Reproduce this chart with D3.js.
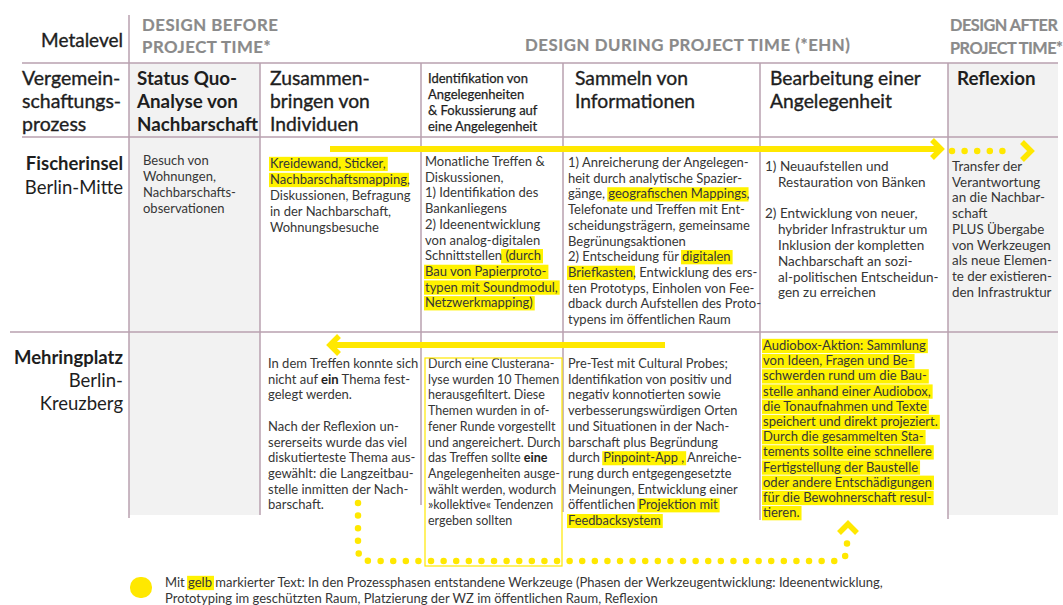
<!DOCTYPE html>
<html><head><meta charset="utf-8">
<script src="https://cdn.jsdelivr.net/npm/d3@7"></script>
<style>
body{margin:0;background:#fff}
svg{display:block}
text{font-family:Lato,"Noto Sans",sans-serif}
</style>
</head><body>
<svg id="c" width="1063" height="605"></svg>
<script>
// ---------- DATA ----------
const metaLabel = "Metalevel";
const metaLevels = [
  ["DESIGN BEFORE","PROJECT TIME*"],
  ["DESIGN DURING PROJECT TIME (*EHN)"],
  ["DESIGN AFTER","PROJECT TIME*"]
];
const processLabel = ["Vergemein-","schaftungs-","prozess"];
const phases = ["status","zusammen","ident","sammeln","bearbeitung","reflexion"];
const phaseLabels = [
  ["Status Quo-","Analyse von","Nachbarschaft"],
  ["Zusammen-","bringen von","Individuen"],
  ["Identifikation von","Angelegenheiten","& Fokussierung auf","eine Angelegenheit"],
  ["Sammeln von","Informationen"],
  ["Bearbeitung einer","Angelegenheit"],
  ["Reflexion"]
];
const sites = [
  ["Fischerinsel","Berlin-Mitte"],
  ["Mehringplatz","Berlin-","Kreuzberg"]
];
// [..] = gelb markiert, *..* = fett, \t = eingerückte Fortsetzung
const fischerinselCells = [
  ["Besuch von","Wohnungen,","Nachbarschafts-","observationen"],
  ["[Kreidewand, Sticker,]","[Nachbarschaftsmapping],","Diskussionen, Befragung","in der Nachbarschaft,","Wohnungsbesuche"],
  ["Monatliche Treffen &","Diskussionen,","1) Identifikation des","Bankanliegens","2) Ideenentwicklung","von analog-digitalen","Schnittstellen[ (durch]","[Bau von Papierproto-]","[typen mit Soundmodul,]","[Netzwerkmapping)]"],
  ["1) Anreicherung der Angelegen-","heit durch analytische Spazier-","gänge, [geografischen Mappings],","Telefonate und Treffen mit Ent-","scheidungsträgern, gemeinsame","Begrünungsaktionen","2) Entscheidung für [digitalen]","[Briefkasten], Entwicklung des ers-","ten Prototyps, Einholen von Fee-","dback durch Aufstellen des Proto-","typens im öffentlichen Raum"],
  ["1) Neuaufstellen und","\tRestauration von Bänken","","2) Entwicklung von neuer,","\thybrider Infrastruktur um","\tInklusion der kompletten","\tNachbarschaft an sozi-","\tal-politischen Entscheidun-","\tgen zu erreichen"],
  ["Transfer der","Verantwortung","an die Nachbar-","schaft","PLUS Übergabe","von Werkzeugen","als neue Elemen-","te der existieren-","den Infrastruktur"]
];
const mehringplatzCells = [
  [],
  ["In dem Treffen konnte sich","nicht auf *ein* Thema fest-","gelegt werden.","","Nach der Reflexion un-","sererseits wurde das viel","diskutierteste Thema aus-","gewählt: die Langzeitbau-","stelle inmitten der Nach-","barschaft."],
  ["Durch eine Clusterana-","lyse wurden 10 Themen","herausgefiltert. Diese","Themen wurden in of-","fener Runde vorgestellt","und angereichert. Durch","das Treffen sollte *eine*","Angelegenheiten ausge-","wählt werden, wodurch","»kollektive« Tendenzen","ergeben sollten"],
  ["Pre-Test mit Cultural Probes;","Identifikation von positiv und","negativ konnotierten sowie","verbesserungswürdigen Orten","und Situationen in der Nach-","barschaft plus Begründung","durch [Pinpoint-App ,] Anreiche-","rung durch entgegengesetzte","Meinungen, Entwicklung einer","öffentlichen [Projektion mit]","[Feedbacksystem]"],
  ["[Audiobox-Aktion: Sammlung]","[von Ideen, Fragen und Be-]","[schwerden rund um die Bau-]","[stelle anhand einer Audiobox,]","[die Tonaufnahmen und Texte]","[speichert und direkt projeziert.]","[Durch die gesammelten Sta-]","[tements sollte eine schnellere]","[Fertigstellung der Baustelle]","[oder andere Entschädigungen]","[für die Bewohnerschaft resul-]","[tieren.]"],
  []
];
const legendLines = [
  "Mit [gelb] markierter Text: In den Prozessphasen entstandene Werkzeuge (Phasen der Werkzeugentwicklung: Ideenentwicklung,",
  "Prototyping im geschützten Raum, Platzierung der WZ im öffentlichen Raum, Reflexion"
];

// ---------- LAYOUT ----------
const colEdges = [129, 260, 421, 563, 760, 948, 1058];
const xCol = d3.scaleOrdinal().domain(phases).range(colEdges.slice(0, 6));
const xColEnd = d3.scaleOrdinal().domain(phases).range(colEdges.slice(1));
const yRows = {metaTop: 15, header: 63, row1: 137, row2: 332, bottom: 515};
const LINE = "#b9a1af", YEL = "#ffe800", HL = "#fff200", GRAY = "#f2f2f2";
const TXT = "#363636", DARK = "#1e1e1e";

const svg = d3.select("#c");
const gFill = svg.append("g"), gGrid = svg.append("g"), gHL = svg.append("g"),
      gText = svg.append("g"), gArrow = svg.append("g");

// gray columns
["status", "reflexion"].forEach(p => {
  gFill.append("rect").attr("x", xCol(p)).attr("y", yRows.header)
    .attr("width", xColEnd(p) - xCol(p)).attr("height", yRows.bottom - yRows.header)
    .attr("fill", GRAY);
});

// grid lines
const hLines = [[22, yRows.header], [22, yRows.row1], [10, yRows.row2]];
hLines.forEach(([x0, y]) => gGrid.append("line").attr("x1", x0).attr("x2", colEdges[6])
  .attr("y1", y).attr("y2", y).attr("stroke", LINE).attr("stroke-width", 1.5));
const vEnds = [518, 515, 505, 512, 520, 519];
colEdges.slice(0, 6).forEach((x, i) => gGrid.append("line").attr("x1", x).attr("x2", x)
  .attr("y1", i === 0 ? yRows.metaTop : yRows.header).attr("y2", vEnds[i])
  .attr("stroke", LINE).attr("stroke-width", 1.5));

// rich text helper
function richLine(g, str, x, y, opt) {
  const t = g.append("text").attr("x", x).attr("y", y)
    .attr("font-size", opt.size).attr("fill", opt.color || TXT)
    .attr("font-weight", opt.weight || 400);
  if (opt.anchor) t.attr("text-anchor", opt.anchor);
  if (opt.ls) t.attr("letter-spacing", opt.ls);
  if (opt.medium) t.attr("stroke", opt.color || TXT).attr("stroke-width", opt.medium);
  const parts = str.split(/(\[[^\]]*\]|\*[^*]*\*)/).filter(s => s.length);
  const spans = parts.map(p => {
    let kind = "n", s = p;
    if (p[0] === "[") { kind = "h"; s = p.slice(1, -1); }
    else if (p[0] === "*") { kind = "b"; s = p.slice(1, -1); }
    const ts = t.append("tspan").text(s);
    if (kind === "b") ts.attr("font-weight", 700).attr("fill", DARK);
    return {ts, kind};
  });
  spans.filter(s => s.kind === "h").forEach(s => {
    const node = s.ts.node();
    const x0 = node.getStartPositionOfChar(0).x;
    const w = node.getComputedTextLength();
    gHL.append("rect").attr("x", x0 - 1).attr("y", y - opt.size * 0.86)
      .attr("width", w + 3).attr("height", opt.size * 1.1).attr("fill", HL);
  });
  return t;
}
function block(lines, x, y0, lh, opt) {
  lines.forEach((l, i) => {
    if (!l) return;
    let xx = x, s = l;
    if (s[0] === "\t") { xx = x + (opt.indent || 13); s = s.slice(1); }
    const o = Object.assign({}, opt);
    if (opt.boldFirst && i === 0) o.weight = 700;
    richLine(gText, s, xx, y0 + i * lh, o);
  });
}

// meta level row
richLine(gText, metaLabel, 123, 47, {size: 19, anchor: "end", color: DARK, medium: 0.35});
const grayHead = {size: 16.8, weight: 700, color: "#8a8a8a", ls: 0.5, medium: 0.2};
block(metaLevels[0], 142, 31, 22, grayHead);
block(metaLevels[1], 525, 51, 22, Object.assign({}, grayHead, {ls: 0.55}));
block(metaLevels[2], 950, 31, 23, {size: 16.3, weight: 700, color: "#8a8a8a", ls: -0.5, medium: 0.2});

// header row
block(processLabel, 22, 85, 23, {size: 19.5, color: DARK, medium: 0.35});
const headPad = [8, 10, 7, 12, 10, 9];
phases.forEach((p, i) => {
  const small = p === "ident";
  const bold = (p === "status" || p === "reflexion");
  block(phaseLabels[i], xCol(p) + headPad[i], small ? 83 : 85, small ? 16 : 23,
    {size: small ? 13 : (bold ? 18.8 : 19.3), color: DARK, weight: bold ? 700 : 400,
     medium: bold ? 0 : (small ? 0.25 : 0.35)});
});

// site labels
block(sites[0], 123, 170, 24, {size: 18.5, anchor: "end", color: DARK, boldFirst: true});
block(sites[1], 123, 364, 23, {size: 18.5, anchor: "end", color: DARK, boldFirst: true});

// cells
const cellPadF = [14, 10, 4, 5, 5, 4];
const firstF = [165, 168, 166, 167, 171, 171];
const lhF = [16, 16, 15.7, 15.7, 15.8, 15.7];
const sizeF = [13, 13, 13, 13, 13.5, 13.4];
phases.forEach((p, i) => block(fischerinselCells[i], xCol(p) + cellPadF[i], firstF[i], lhF[i], {size: sizeF[i]}));
const cellPadM = [14, 8, 7, 5, 3, 4];
const firstM = [368, 368, 368, 368, 350, 368];
const lhM = [15.7, 15.7, 15.7, 15.7, 15.2, 15.7];
const sizeM = [13, 13, 12.5, 12.8, 13, 13];
phases.forEach((p, i) => block(mehringplatzCells[i], xCol(p) + cellPadM[i], firstM[i], lhM[i], {size: sizeM[i]}));

// legend
gFill.append("rect").attr("x", 130).attr("y", 577).attr("width", 22).attr("height", 21)
  .attr("rx", 10).attr("fill", YEL);
block(legendLines, 165, 587, 15.5, {size: 13});

// ---------- ARROWS ----------
const line = d3.line();
function chevron(apex, dir, s) {
  const [ax, ay] = apex;
  let pts;
  if (dir === "right") pts = [[ax - s, ay - s], [ax, ay], [ax - s, ay + s]];
  if (dir === "left") pts = [[ax + s, ay - s], [ax, ay], [ax + s, ay + s]];
  if (dir === "up") pts = [[ax - s, ay + s], [ax, ay], [ax + s, ay + s]];
  gArrow.append("path").attr("d", line(pts)).attr("fill", "none").attr("stroke", YEL)
    .attr("stroke-width", 5.5).attr("stroke-linejoin", "miter");
}
function solid(pts) {
  gArrow.append("path").attr("d", line(pts)).attr("fill", "none").attr("stroke", YEL).attr("stroke-width", 6);
}
function dotted(d) {
  gArrow.append("path").attr("d", d).attr("fill", "none").attr("stroke", YEL)
    .attr("stroke-width", 6.5).attr("stroke-linecap", "round").attr("stroke-dasharray", "0 12.6");
}
solid([[330, 149], [938, 149]]);
chevron([941, 149], "right", 9);
dotted("M952,151 L1014,151");
chevron([1031, 151], "right", 9);

solid([[333, 345], [665, 345]]);
chevron([330, 345], "left", 9);

dotted("M358,503 L358,548 Q358,561 371,561 L834,561 Q847,561 847,548 L847,540");
chevron([848, 524], "up", 9);

// yellow frame around Identifikation (Mehringplatz)
gArrow.append("rect").attr("x", 425).attr("y", 358).attr("width", 137).attr("height", 208)
  .attr("fill", "none").attr("stroke", YEL).attr("stroke-width", 1.2);
</script>
</body></html>
